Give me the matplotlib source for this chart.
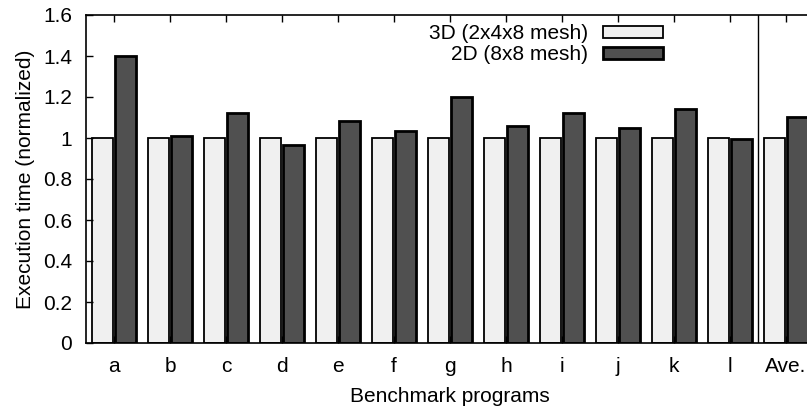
import matplotlib.pyplot as plt
import numpy as np
from matplotlib.patches import Patch

plt.rcParams['font.family'] = ['Liberation Sans', 'DejaVu Sans']

programs = ['a', 'b', 'c', 'd', 'e', 'f', 'g', 'h', 'i', 'j', 'k', 'l', 'Ave.']
mesh_3d = [1.0, 1.0, 1.0, 1.0, 1.0, 1.0, 1.0, 1.0, 1.0, 1.0, 1.0, 1.0, 1.0]
mesh_2d = [1.40, 1.01, 1.12, 0.965, 1.085, 1.035, 1.20, 1.06, 1.12, 1.05, 1.14, 0.995, 1.10]
labels = ['3D (2x4x8 mesh)', '2D (8x8 mesh)']

fs = 15
fig = plt.figure(figsize=(8.07, 4.09), dpi=100)
ax = fig.add_axes([86 / 807, 66 / 409, 728 / 807, 328 / 409])

x = np.arange(len(programs))
w = 0.38
ax.bar(x - w / 2 - 0.01, mesh_3d, w, color='#f0f0f0', edgecolor='black', linewidth=1.3)
ax.bar(x + w / 2 + 0.01, mesh_2d, w, color='#505050', edgecolor='black', linewidth=2.0)

ax.axvline(11.5, color='black', linewidth=1.0)

ax.set_xlim(-0.5, 12.5)
ax.set_ylim(0, 1.6)
ax.set_xticks(x)
ax.set_xticklabels(programs)
ax.set_yticks(np.arange(0, 1.61, 0.2))
ax.set_yticklabels(['0', '0.2', '0.4', '0.6', '0.8', '1', '1.2', '1.4', '1.6'])
ax.tick_params(direction='in', top=True, right=True, length=5, width=1, labelsize=fs, pad=10)
ax.tick_params(axis='x', pad=10)
for s in ax.spines.values():
    s.set_linewidth(1.2)

ax.set_xlabel('Benchmark programs', fontsize=fs, labelpad=8)
ax.set_ylabel('Execution time (normalized)', fontsize=fs, labelpad=6)

handles = [Patch(facecolor='#f0f0f0', edgecolor='black', linewidth=1.3),
           Patch(facecolor='#505050', edgecolor='black', linewidth=2.0)]
ax.legend(handles, labels, markerfirst=False, frameon=False, fontsize=fs,
          handlelength=2.9, handleheight=0.5, labelspacing=0.1, handletextpad=0.7,
          loc='upper right', bbox_to_anchor=(663 / 807, 385 / 409),
          bbox_transform=fig.transFigure, borderaxespad=0, borderpad=0)

fig.savefig('out.png', dpi=100)
